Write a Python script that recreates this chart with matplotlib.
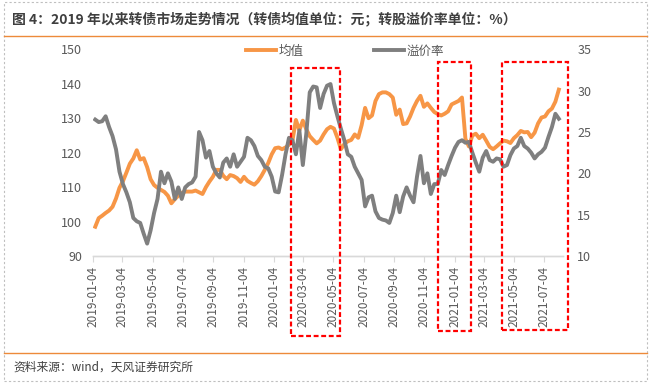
import numpy as np
import pandas as pd
import matplotlib
matplotlib.use("Agg")
import matplotlib.pyplot as plt
import matplotlib.dates as mdates
import matplotlib.transforms as mtransforms
from matplotlib.patches import Rectangle
from matplotlib.lines import Line2D

plt.rcParams["font.family"] = ["Noto Sans CJK SC", "DejaVu Sans"]

# ── Data (weekly) ────────────────────────────────────────────────────
start_date = "2019-01-08"

# 转债均值 (元), left axis
avg_price = [
    98.5, 101.0, 101.7, 102.5, 103.2, 104.3, 106.7, 109.8, 111.7, 114.2,
    116.8, 118.3, 120.7, 118.0, 118.4, 115.8, 112.3, 110.6, 109.8, 109.2,
    108.6, 107.5, 105.3, 106.5, 107.5, 108.3, 108.7, 108.7, 108.7, 109.0,
    108.5, 108.0, 110.0, 111.6, 113.0, 115.0, 115.0, 113.3, 112.3, 113.5,
    113.2, 112.6, 111.5, 113.0, 111.8, 111.2, 110.7, 111.7, 113.2, 115.0,
    117.0, 119.5, 121.3, 121.5, 121.0, 121.5, 122.3, 123.5, 129.5, 126.5,
    129.3, 126.8, 124.8, 123.7, 122.7, 123.5, 125.3, 126.8, 127.5, 127.0,
    124.3, 121.0, 122.5, 123.3, 123.7, 125.3, 124.3, 128.0, 133.0, 130.0,
    130.8, 135.0, 137.0, 137.5, 137.5, 137.0, 136.0, 131.0, 132.5, 128.3,
    128.5, 130.5, 133.0, 135.0, 136.5, 133.3, 134.3, 133.0, 131.8, 131.2,
    130.8, 131.3, 132.0, 134.0, 134.5, 135.0, 136.0, 124.0, 121.8, 125.0,
    125.5, 124.2, 125.2, 123.5, 121.7, 121.0, 121.8, 122.7, 123.5, 123.3,
    122.8, 124.2, 125.1, 126.3, 125.9, 126.0, 124.5, 125.8, 128.5, 130.2,
    130.5, 132.0, 132.8, 134.8, 138.3,
]

# 转股溢价率 (%), right axis
premium_rate = [
    26.5, 26.2, 26.3, 26.9, 25.6, 24.5, 22.9, 20.2, 18.7, 17.7,
    16.5, 14.6, 14.2, 14.0, 12.7, 11.5, 13.1, 15.2, 16.9, 20.2,
    18.8, 20.0, 19.0, 16.9, 18.3, 16.9, 18.3, 18.7, 18.9, 19.6,
    25.0, 24.0, 21.9, 22.7, 20.8, 20.0, 19.5, 21.3, 21.8, 20.8,
    22.3, 20.8, 21.4, 22.0, 24.3, 24.0, 23.3, 22.1, 21.6, 20.8,
    20.6, 19.6, 17.8, 17.7, 19.8, 22.3, 24.3, 24.0, 22.3, 25.2,
    21.0, 24.8, 29.8, 30.5, 30.4, 27.9, 29.6, 30.6, 30.8, 28.5,
    26.9, 25.4, 24.0, 22.3, 22.0, 20.8, 20.0, 19.2, 16.0, 17.1,
    17.3, 15.4, 14.6, 14.4, 14.3, 14.0, 15.2, 17.3, 15.3, 17.2,
    18.3, 17.3, 16.5, 19.6, 22.1, 18.8, 20.0, 17.5, 18.7, 18.7,
    20.4, 19.8, 21.0, 22.1, 23.1, 23.8, 24.0, 23.7, 23.8, 22.5,
    21.3, 20.2, 21.9, 22.7, 21.6, 21.4, 21.8, 21.7, 20.8, 21.0,
    22.2, 23.0, 23.3, 24.3, 23.3, 23.0, 22.5, 21.8, 22.3, 22.6,
    23.1, 24.4, 25.6, 27.2, 26.6,
]

tick_dates = pd.date_range("2019-01-01", "2021-07-01", freq="2MS") + pd.Timedelta(days=3)
highlight_windows = [("2020-02-08", "2020-05-17"),
                     ("2020-12-02", "2021-02-06"),
                     ("2021-04-09", "2021-08-22")]

# ── Style ────────────────────────────────────────────────────────────
C_AVG = "#F79646"
C_PREM = "#7F7F7F"
C_TEXT = "#595959"
C_AXIS = "#D9D9D9"
C_RULE = "#ED8A3A"
LW = 2.8

dates_avg = pd.date_range(start_date, periods=len(avg_price), freq="7D")
dates_prem = pd.date_range(start_date, periods=len(premium_rate), freq="7D")

fig = plt.figure(figsize=(6.5, 3.84), dpi=100)
ax = fig.add_axes([0.1435, 0.3333, 0.7231, 0.5383])
ax2 = ax.twinx()

ax.plot(dates_avg, avg_price, color=C_AVG, lw=LW, solid_joinstyle="round",
        label="均值")
ax2.plot(dates_prem, premium_rate, color=C_PREM, lw=LW,
         solid_joinstyle="round", label="溢价率")

ax.set_ylim(90, 150)
ax.set_yticks(np.arange(90, 151, 10))
ax2.set_ylim(10, 35)
ax2.set_yticks(np.arange(10, 36, 5))
ax.set_xlim(pd.Timestamp("2019-01-04"), pd.Timestamp("2021-08-12"))

ax.set_xticks(tick_dates)
ax.xaxis.set_major_formatter(mdates.DateFormatter("%Y-%m-%d"))
ax.tick_params(axis="x", length=4, color=C_AXIS, labelcolor=C_TEXT,
               labelsize=8.5, labelrotation=90, pad=3)
ax.tick_params(axis="y", length=0, labelcolor=C_TEXT, labelsize=9, pad=8)
ax2.tick_params(axis="y", length=0, labelcolor=C_TEXT, labelsize=9, pad=10)

for a in (ax, ax2):
    for s in ("top", "left", "right"):
        a.spines[s].set_visible(False)
    a.spines["bottom"].set_color(C_AXIS)
    a.spines["bottom"].set_linewidth(1.0)

# Legend
handles = [Line2D([], [], color=C_AVG, lw=LW), Line2D([], [], color=C_PREM, lw=LW)]
fig.legend(handles, ["均值", "溢价率"], loc="center", ncol=2,
           bbox_to_anchor=(345 / 650, 1 - 51 / 384), frameon=False,
           fontsize=9, labelcolor=C_TEXT, handlelength=2.4,
           handletextpad=0.2, columnspacing=5.6)

# Red dashed highlight boxes (x in dates, y in figure fraction)
trans = mtransforms.blended_transform_factory(ax.transData, fig.transFigure)
box_y = [(0.125, 0.823), (0.139, 0.838), (0.141, 0.839)]
for (d0, d1), (y0, y1) in zip(highlight_windows, box_y):
    x0 = mdates.date2num(pd.Timestamp(d0))
    x1 = mdates.date2num(pd.Timestamp(d1))
    fig.patches.append(Rectangle((x0, y0), x1 - x0, y1 - y0, transform=trans,
                                 fill=False, edgecolor="#FF0000", lw=1.6,
                                 linestyle=(0, (2.2, 1.2)), zorder=5))

# Title, rules, source, outer border
fig.text(12 / 650, 1 - 19 / 384,
         "图 4：2019 年以来转债市场走势情况（转债均值单位：元；转股溢价率单位：%）",
         fontsize=10, fontweight="bold", color="#3F3F3F", va="center", ha="left")
fig.add_artist(Line2D([4 / 650, 647 / 650], [1 - 35.5 / 384] * 2,
                      color=C_RULE, lw=1.0, transform=fig.transFigure))
fig.add_artist(Line2D([4 / 650, 647 / 650], [1 - 353 / 384] * 2,
                      color=C_RULE, lw=1.0, transform=fig.transFigure))
fig.text(13 / 650, 1 - 367 / 384, "资料来源：wind，天风证券研究所",
         fontsize=8.5, color="#404040", va="center", ha="left")
fig.patches.append(Rectangle((4 / 650, 3 / 384), 643 / 650, 379 / 384,
                             transform=fig.transFigure, fill=False,
                             edgecolor="#BFBFBF", lw=0.8,
                             linestyle=(0, (2, 2))))

fig.savefig("out.png", dpi=100, facecolor="white")
